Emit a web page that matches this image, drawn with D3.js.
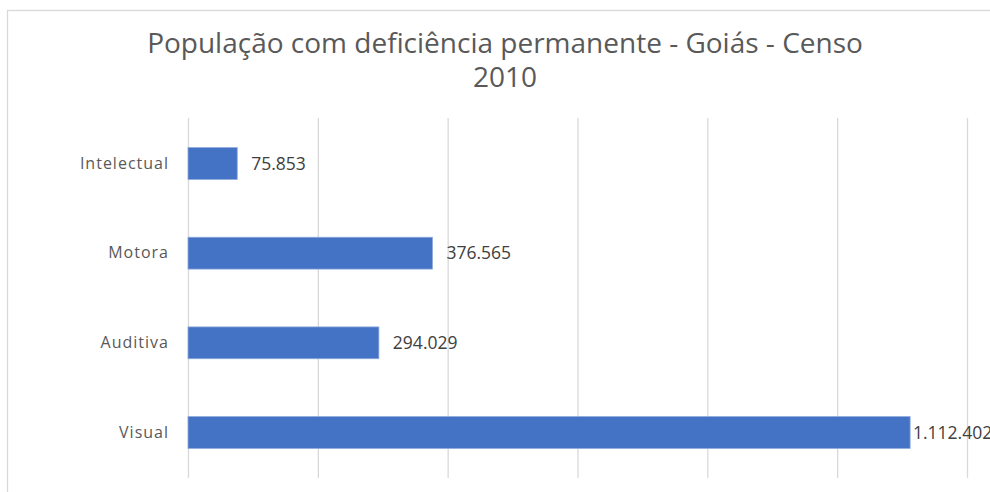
<!DOCTYPE html>
<html>
<head>
<meta charset="utf-8">
<script src="https://cdn.jsdelivr.net/npm/d3@7"></script>
<style>
  body { margin: 0; background: #fff; }
  text { font-family: "Open Sans", "Noto Sans", sans-serif; }
</style>
</head>
<body>
<div id="chart"></div>
<script>
// Data
const categories = ['Intelectual', 'Motora', 'Auditiva', 'Visual'];
const values = [75853, 376565, 294029, 1112402];
const xTicks = [0, 200000, 400000, 600000, 800000, 1000000, 1200000];
const titleLines = ['População com deficiência permanente - Goiás - Censo', '2010'];

const config = {
  width: 990,
  height: 492,
  margin: { top: 118, bottom: 14, right: 22, left: 188 }
};

const ptBR = d3.formatLocale({ decimal: ',', thousands: '.', grouping: [3], currency: ['R$', ''] });
const fmt = ptBR.format(',d');

const width = config.width - config.margin.left - config.margin.right;
const height = config.height - config.margin.top - config.margin.bottom;

const svg = d3.select('#chart')
    .append('svg')
    .attr('width', config.width)
    .attr('height', config.height);

// Chart border (runs off the right and bottom of the picture)
svg.append('rect')
    .attr('x', 7.5)
    .attr('y', 10.5)
    .attr('width', 1000)
    .attr('height', 500)
    .attr('fill', '#fff')
    .attr('stroke', '#d9d9d9')
    .attr('stroke-width', 1.3);

// Title, one text per line
svg.selectAll('.title')
    .data(titleLines)
    .join('text')
    .attr('class', 'title')
    .attr('x', 505)
    .attr('y', (d, i) => 53 + i * 34)
    .attr('text-anchor', 'middle')
    .attr('fill', '#595959')
    .style('font-size', '28px')
    .text(d => d);

const g = svg.append('g')
    .attr('transform', `translate(${config.margin.left}, ${config.margin.top})`);

// Scales
const xScale = d3.scaleLinear()
    .domain([0, 1200000])
    .range([0, 779]);

const yScale = d3.scaleBand()
    .domain(categories)
    .range([0, 360])
    .paddingInner(0.645)
    .paddingOuter(0.33);

// Vertical gridlines
const grid = g.append('g')
    .attr('class', 'grid')
    .attr('transform', `translate(0, ${height})`)
    .call(d3.axisBottom(xScale).tickValues(xTicks).tickSize(-height).tickFormat(''));
grid.select('.domain').remove();
grid.selectAll('.tick line')
    .attr('stroke', '#d9d9d9')
    .attr('stroke-width', 1.3);

// Category axis
const yAxis = g.append('g')
    .attr('class', 'y-axis')
    .call(d3.axisLeft(yScale).tickSize(0).tickPadding(19));
yAxis.select('.domain').remove();
yAxis.selectAll('.tick text')
    .attr('fill', '#595959')
    .style('font-size', '16px')
    .style('letter-spacing', '1px');

const data = categories.map((c, i) => ({ cat: c, value: values[i] }));

// Bars
g.selectAll('.bar')
    .data(data)
    .join('rect')
    .attr('class', 'bar')
    .attr('x', 0)
    .attr('y', d => yScale(d.cat))
    .attr('width', d => xScale(d.value))
    .attr('height', yScale.bandwidth())
    .attr('fill', '#4472c4')
    .attr('stroke', '#8eaadb')
    .attr('stroke-width', 0.8);

// Value labels (pulled in where they would run past the plot)
const maxLabelX = xScale(1200000) - 54;
g.selectAll('.label')
    .data(data)
    .join('text')
    .attr('class', 'label')
    .attr('x', d => Math.min(xScale(d.value) + 14, maxLabelX))
    .attr('y', d => yScale(d.cat) + yScale.bandwidth() / 2)
    .attr('dy', '0.35em')
    .attr('fill', '#404040')
    .style('font-size', '17.5px')
    .text(d => fmt(d.value));
</script>
</body>
</html>
